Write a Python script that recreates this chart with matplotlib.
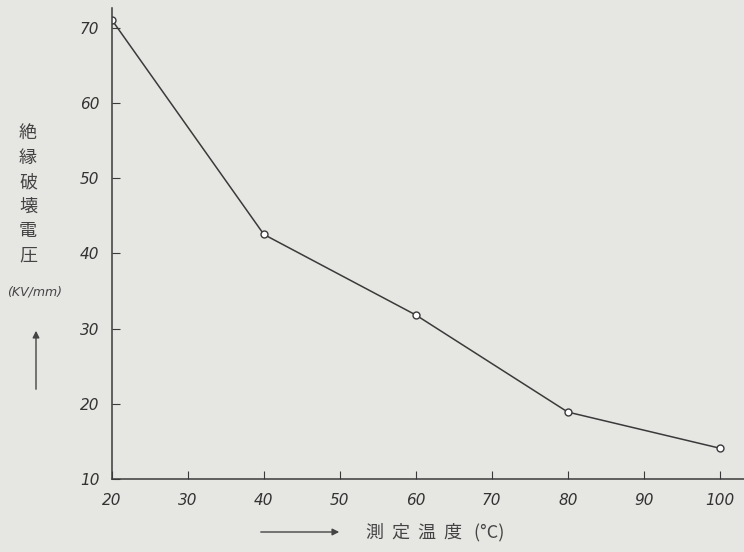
import matplotlib
matplotlib.use("Agg")
import matplotlib.pyplot as plt

plt.rcParams['font.family'] = ['Noto Sans CJK JP', 'DejaVu Sans']

temps = [20, 40, 60, 80, 100]
voltage = [71.0, 42.5, 31.8, 18.9, 14.1]
xticks = [20, 30, 40, 50, 60, 70, 80, 90, 100]
yticks = [10, 20, 30, 40, 50, 60, 70]

bg = '#e6e6e3'
ink = '#3a3a3a'

fig = plt.figure(figsize=(7.44, 5.52), dpi=100, facecolor=bg)
ax = fig.add_axes([0.1505, 0.1322, 0.8495, 0.8533])
ax.set_facecolor(bg)
ax.plot(temps, voltage, color=ink, lw=1.1, marker='o', ms=5,
        mfc='white', mec=ink, mew=1.0)
ax.set_xlim(20, 103.2)
ax.set_ylim(10, 72.6)
for s in ['top', 'right']:
    ax.spines[s].set_visible(False)
for s in ['left', 'bottom']:
    ax.spines[s].set_color(ink)
    ax.spines[s].set_linewidth(1.1)
ax.set_xticks(xticks)
ax.set_yticks(yticks)
ax.tick_params(axis='x', direction='in', length=6, color=ink, pad=10,
               labelsize=11, labelcolor='#333333')
ax.tick_params(axis='y', direction='in', length=6, color=ink, pad=9,
               labelsize=11, labelcolor='#333333')
for lab in ax.get_xticklabels() + ax.get_yticklabels():
    lab.set_fontstyle('italic')
    lab.set_family('DejaVu Sans')

# y-axis label: vertical characters
chars = ['絶', '縁', '破', '壊', '電', '圧']
y0 = 133
for i, c in enumerate(chars):
    fig.text(28 / 744, 1 - (y0 + i * 24.5) / 552, c, fontsize=13,
             color='#444444', ha='center', va='center')
fig.text(35 / 744, 1 - 292 / 552, '(KV/mm)', fontsize=9, color='#444444',
         ha='center', va='center', fontstyle='italic', family='DejaVu Sans')
fig.patches.append(matplotlib.patches.FancyArrowPatch(
    (36 / 744, 1 - 392 / 552), (36 / 744, 1 - 328 / 552),
    transform=fig.transFigure, arrowstyle='-|>', mutation_scale=10,
    color='#444444', lw=1.0))

# x-axis label
fig.patches.append(matplotlib.patches.FancyArrowPatch(
    (258 / 744, 1 - 532 / 552), (342 / 744, 1 - 532 / 552),
    transform=fig.transFigure, arrowstyle='-|>', mutation_scale=10,
    color='#444444', lw=1.0))
fig.text(366 / 744, 1 - 532 / 552, '測  定  温  度   (°C)', fontsize=13,
         color='#444444', ha='left', va='center')

fig.savefig('out.png', dpi=100, facecolor=bg)
